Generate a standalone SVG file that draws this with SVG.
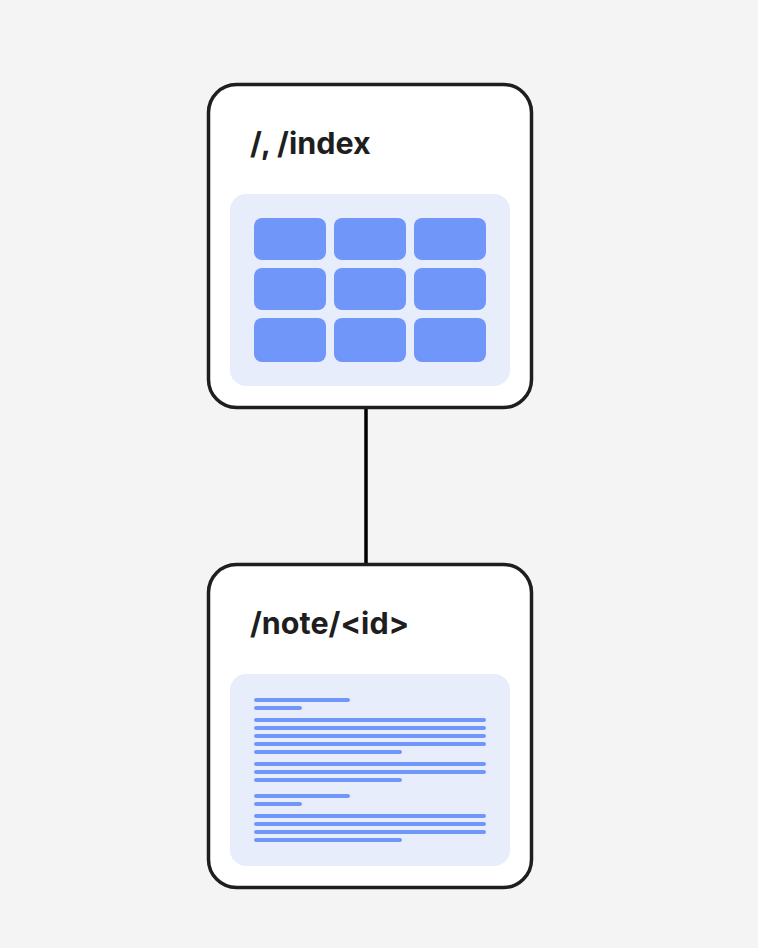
<svg xmlns="http://www.w3.org/2000/svg" width="758" height="948" viewBox="0 0 758 948">
<style>
.frame{fill:#ffffff;stroke:#1e1e1e;stroke-width:3.5}
.panel{fill:#e8edfc}
.cell{fill:#6f96f8}
.ln{stroke:#6f96f8;stroke-width:4;stroke-linecap:round;fill:none}
.title{font-family:Inter,"Liberation Sans",sans-serif;font-weight:700;font-size:30.5px;fill:#1e1e1e}
.conn{stroke:#000000;stroke-width:3.5;fill:none}
</style>
<rect width="758" height="948" fill="#f4f4f4"/>
<g id="connectors">
<line class="conn" x1="366" y1="408" x2="366" y2="564"/>
</g>
<g id="node-index">
<rect class="frame" x="208.5" y="84.5" width="323" height="323" rx="28"/>
<text class="title" x="250" y="153.5">/, /index</text>
<rect class="panel" x="230" y="194" width="280" height="192" rx="16"/>
<rect class="cell" x="254" y="218" width="72" height="42" rx="8"/>
<rect class="cell" x="334" y="218" width="72" height="42" rx="8"/>
<rect class="cell" x="414" y="218" width="72" height="42" rx="8"/>
<rect class="cell" x="254" y="268" width="72" height="42" rx="8"/>
<rect class="cell" x="334" y="268" width="72" height="42" rx="8"/>
<rect class="cell" x="414" y="268" width="72" height="42" rx="8"/>
<rect class="cell" x="254" y="318" width="72" height="44" rx="8"/>
<rect class="cell" x="334" y="318" width="72" height="44" rx="8"/>
<rect class="cell" x="414" y="318" width="72" height="44" rx="8"/>
</g>
<g id="node-note">
<rect class="frame" x="208.5" y="564.5" width="323" height="323" rx="28"/>
<text class="title" x="250" y="633.5">/note/&lt;id&gt;</text>
<rect class="panel" x="230" y="674" width="280" height="192" rx="16"/>
<path class="ln" d="M256 700H348M256 708H300M256 720H484M256 728H484M256 736H484M256 744H484M256 752H400M256 764H484M256 772H484M256 780H400M256 796H348M256 804H300M256 816H484M256 824H484M256 832H484M256 840H400"/>
</g>
</svg>
